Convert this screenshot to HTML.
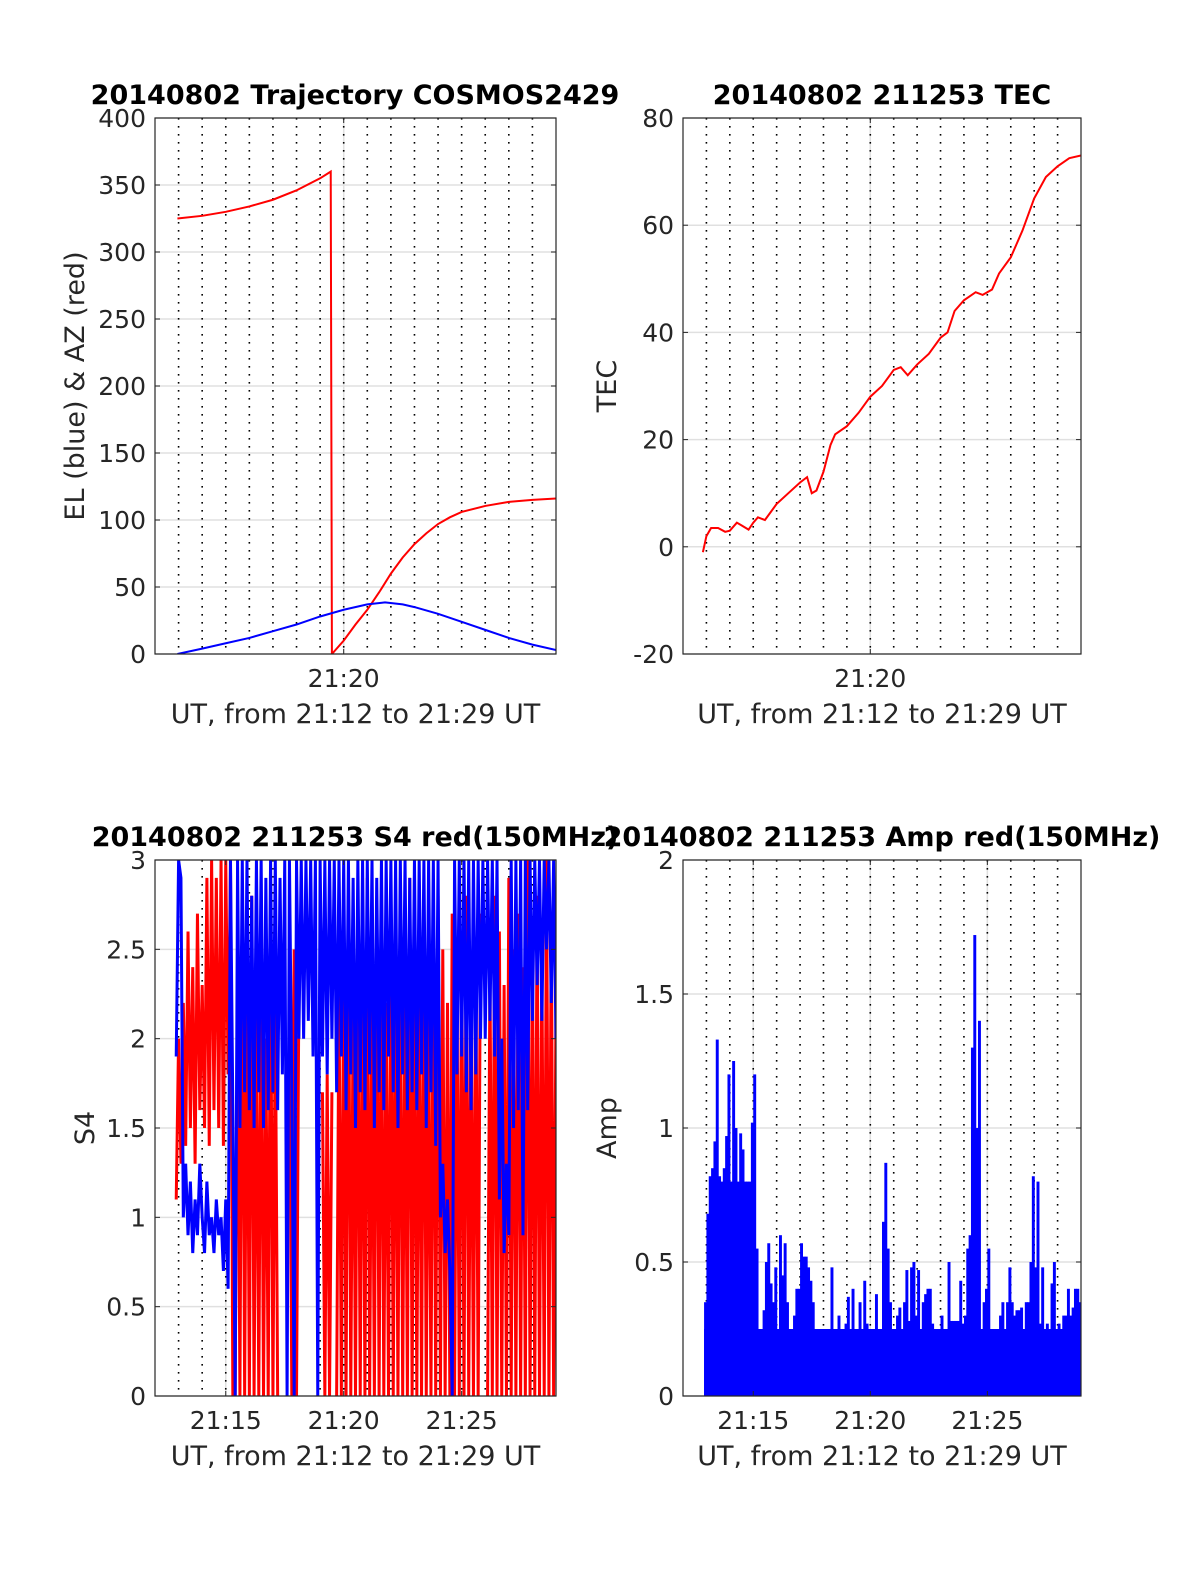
<!DOCTYPE html>
<html><head><meta charset="utf-8"><style>
body{margin:0;background:#fff;}
svg{display:block;font-family:"DejaVu Sans","Liberation Sans",sans-serif;}
</style></head><body>
<svg id="fig" width="1200" height="1575" viewBox="0 0 1200 1575"></svg>
<script>
// ---------- data ----------
const azTimes = [0.95,2,3,4,5,6,7,7.45,7.5,8,8.5,9,9.5,10,10.5,11,11.5,12,12.5,13,14,15,16,17];
const azValues = [325,327,330,334,339,346,355,360,0,10,22,33,46,60,72,82,90,97,102,106,110.5,113.5,115,116];
const elTimes = [0.95,2,3,4,5,6,7,8,9,9.75,10.5,11,12,13,14,15,16,17];
const elValues = [0,4,8,12,17,22,28,33,37,38.5,37,35,30,24,18,12,7,3];
const tecTimes = [0.85,1.0,1.2,1.5,1.8,2,2.3,2.5,2.8,3,3.2,3.5,4,4.5,5,5.3,5.5,5.7,6,6.3,6.5,7,7.5,8,8.5,9,9.3,9.6,10,10.5,11,11.3,11.6,12,12.5,12.8,13.2,13.5,14,14.5,15,15.5,16,16.5,17];
const tecValues = [-1,2,3.5,3.5,2.8,3,4.5,4,3.2,4.5,5.5,5,8,10,12,13,10,10.5,14,19,21,22.5,25,28,30,33,33.5,32,34,36,39,40,44,46,47.5,47,48,51,54,59,65,69,71,72.5,73];
// S4 series sampled every 0.1 min from t=0.9 (min after 21:12)
const s4Start = 0.9, s4Step = 0.1;
const s4Red = [1.1,2.0,1.3,2.2,1.4,2.6,1.5,2.4,1.3,2.7,1.6,2.3,1.5,2.9,1.4,3,1.6,2.9,1.5,3,1.4,3,1.8,
 3,0,0,2.5,0,2.8,0,2.5,0,2.8,0,2.2,0,2.5,0,2,0,2.6,0,2.2,0,
 null,null,null,null,
 2.2,0,2.5,0,2.3,
 null,null,null,null,null,
 1.3,null,null,null,
 1.7,0,1.8,0,1.7,
 null,
 0,2.3,0,2.5,0,2.8,0,2.2,0,2.6,0,2.4,0,2.9,0,2.3,0,2.7,0,2.5,0,2.2,0,2.8,0,2.4,0,2.6,0,2.3,0,2.9,0,2.5,0,2.4,0,2.7,0,2.2,0,2.6,0,2.8,
 0,2.5,0,2.2,0,2.7,0,2.4,0,2.6,0,2.8,0,2.3,0,2.5,0,2.7,
 null,null,
 0,2.4,0,2.8,0,2.6,0,2.3,0,2.9,0,2.5,0,2.7,0,2.4,0,3,0,2.6,0,2.8,0,2.5,0,3,0,2.7,0,2.2];
const s4Blue = [1.9,3,2.9,1.0,1.3,0.9,1.2,0.8,1.1,0.9,1.3,1.0,0.8,1.2,0.9,1.0,0.8,1.1,0.9,1.0,0.7,1.1,0.6,
 3,1.6,0,3,1.5,3,1.7,3,1.6,2.8,1.5,3,1.7,3,1.5,2.9,1.6,3,1.7,3,1.6,
 2.9,1.8,3,0,
 3,1.7,0,3,2.0,
 3,2.0,3,2.1,3,
 1.9,3,0,3,
 1.9,3,1.8,3,2.0,3,
 1.7,3,1.9,3,1.6,3,1.8,2.9,1.5,3,1.7,3,1.6,3,1.8,3,1.5,2.9,1.7,3,1.6,3,1.9,3,1.7,3,1.5,3,1.8,3,1.6,2.9,1.7,3,1.6,3,1.8,3,1.5,3,1.7,3,1.4,3,
 1.0,1.3,0.8,1.1,0.7,0,3,1.8,3,1.9,3,1.7,3,1.6,3,1.8,3,2.0,
 3,2.0,
 3,2.1,3,1.9,3,1.1,2.0,0.8,1.3,0.9,3,1.5,3,1.6,3,0.9,3,1.6,3,2.1,3,2.3,3,2.1,3,2.5,3,2.2,3,2.0];
const ampValues = [0.35,0.68,0.82,0.85,0.95,1.33,0.82,0.8,0.85,0.97,1.2,0.8,1.25,1.0,0.8,0.98,0.92,0.8,0.8,0.8,1.02,1.2,0.55,0.18,0.2,0.32,0.5,0.57,0.42,0.35,
 0.48,0.25,0.6,0.45,0.57,0.35,0.25,0.2,0.3,0.4,0.4,0.57,0.52,0.52,0.48,0.43,0.35,0.22,0.2,0.17,0.18,0.2,0.25,0.2,0.48,0.25,0.25,0.3,0.2,0.2,
 0.27,0.37,0.23,0.4,0.22,0.2,0.35,0.25,0.43,0.27,0.2,0.2,0.25,0.38,0.23,0.25,0.65,0.87,0.55,0.35,0.25,0.2,0.3,0.33,0.25,0.35,0.47,0.28,0.48,0.5,
 0.3,0.47,0.2,0.35,0.38,0.4,0.4,0.27,0.2,0.17,0.25,0.3,0.2,0.25,0.5,0.28,0.28,0.28,0.28,0.43,0.27,0.3,0.55,0.6,1.3,1.72,1.0,1.4,0.25,0.35,
 0.4,0.55,0.25,0.18,0.2,0.2,0.3,0.35,0.2,0.35,0.48,0.35,0.3,0.32,0.32,0.33,0.2,0.35,0.35,0.5,0.82,0.48,0.8,0.27,0.48,0.22,0.27,0.22,0.42,0.5,
 0.25,0.27,0.23,0.3,0.3,0.4,0.3,0.33,0.4,0.4,0.35,0.3];
const minuteTicks = [1,2,3,4,5,6,7,8,9,10,11,12,13,14,15,16];

// ---------- drawing ----------
const NS='http://www.w3.org/2000/svg';
const svg=document.getElementById('fig');
function mk(tag,attrs,parent){const e=document.createElementNS(NS,tag);for(const k in attrs)e.setAttribute(k,attrs[k]);(parent||svg).appendChild(e);return e;}
function txt(s,attrs,parent){const e=mk('text',attrs,parent);e.textContent=s;return e;}

function makeAxes(cfg){
  const g=mk('g',{});
  
  
  const X=t=>cfg.x0+(t-0)/(17)*(cfg.x1-cfg.x0);
  const Y=v=>cfg.y1-(v-cfg.ymin)/(cfg.ymax-cfg.ymin)*(cfg.y1-cfg.y0);
  cfg.yticks.forEach(v=>{
    const l=mk('line',{x1:cfg.x0,x2:cfg.x1,y1:Y(v),y2:Y(v),stroke:'#e0e0e0','stroke-width':1.5},g);
    
  });
  cfg.xticks.forEach(tk=>{
    const l=mk('line',{x1:X(tk.t),x2:X(tk.t),y1:cfg.y0,y2:cfg.y1,stroke:'#e0e0e0','stroke-width':1.5},g);
    
  });
  minuteTicks.forEach(m=>{
    const l=mk('line',{x1:X(m),x2:X(m),y1:cfg.y0,y2:cfg.y1,stroke:'#000','stroke-width':1.6,'stroke-dasharray':'1.6 6.4'},g);
    
  });
  const plot=mk('g',{'clip-path':'url(#'+cfg.name+'-clip)'},g);
  const cp=mk('clipPath',{id:cfg.name+'-clip'},g);
  mk('rect',{x:cfg.x0,y:cfg.y0,width:cfg.x1-cfg.x0,height:cfg.y1-cfg.y0},cp);
  const box=mk('rect',{x:cfg.x0,y:cfg.y0,width:cfg.x1-cfg.x0,height:cfg.y1-cfg.y0,fill:'none',stroke:'#262626','stroke-width':1.2},g);
  
  cfg.yticks.forEach((v,i)=>{
    mk('line',{x1:cfg.x0,x2:cfg.x0+5,y1:Y(v),y2:Y(v),stroke:'#262626'},g);
    mk('line',{x1:cfg.x1,x2:cfg.x1-5,y1:Y(v),y2:Y(v),stroke:'#262626'},g);
    const t=txt(cfg.ylabels[i],{x:cfg.x0-9,y:Y(v)+9,'text-anchor':'end','font-size':25,fill:'#262626'},g);
    
  });
  cfg.xticks.forEach(tk=>{
    mk('line',{x1:X(tk.t),x2:X(tk.t),y1:cfg.y1,y2:cfg.y1-5,stroke:'#262626'},g);
    mk('line',{x1:X(tk.t),x2:X(tk.t),y1:cfg.y0,y2:cfg.y0+5,stroke:'#262626'},g);
    const t=txt(tk.label,{x:X(tk.t),y:cfg.y1+33,'text-anchor':'middle','font-size':25,fill:'#262626'},g);
    
  });
  const cx=(cfg.x0+cfg.x1)/2;
  const xl=txt('UT, from 21:12 to 21:29 UT',{x:cx,y:cfg.y1+69,'text-anchor':'middle','font-size':27,fill:'#262626'},g);
  
  const yc=(cfg.y0+cfg.y1)/2;
  const yl=txt(cfg.ylabel,{x:cfg.ylx,y:yc,'text-anchor':'middle','font-size':27,fill:'#262626',transform:'rotate(-90 '+cfg.ylx+' '+yc+')'},g);
  
  const ti=txt(cfg.title,{x:cfg.tx,y:cfg.y0-14,'text-anchor':'middle','font-size':27,'font-weight':'bold',fill:'#000'},g);
  
  return {X,Y,plot};
}
function linePath(X,Y,ts,vs){let d='',pen=false;for(let i=0;i<vs.length;i++){if(vs[i]===null){pen=false;continue;}d+=(pen?'L':'M')+X(ts[i]).toFixed(2)+' '+Y(vs[i]).toFixed(2);pen=true;}return d;}
const topXt=[{t:8,label:'21:20'}];
const botXt=[{t:3,label:'21:15'},{t:8,label:'21:20'},{t:13,label:'21:25'}];

const a1=makeAxes({name:'trajectory-panel',x0:155,x1:556,y0:118,y1:654,ymin:0,ymax:400,yticks:[0,50,100,150,200,250,300,350,400],ylabels:['0','50','100','150','200','250','300','350','400'],xticks:topXt,ylabel:'EL (blue) & AZ (red)',ylx:84,title:'20140802 Trajectory COSMOS2429',tx:355});
let p=mk('path',{d:linePath(a1.X,a1.Y,azTimes,azValues),fill:'none',stroke:'#f00','stroke-width':2},a1.plot);

p=mk('path',{d:linePath(a1.X,a1.Y,elTimes,elValues),fill:'none',stroke:'#00f','stroke-width':2},a1.plot);


const a2=makeAxes({name:'tec-panel',x0:683,x1:1081,y0:118,y1:654,ymin:-20,ymax:80,yticks:[-20,0,20,40,60,80],ylabels:['-20','0','20','40','60','80'],xticks:topXt,ylabel:'TEC',ylx:616,title:'20140802 211253 TEC',tx:882});
p=mk('path',{d:linePath(a2.X,a2.Y,tecTimes,tecValues),fill:'none',stroke:'#f00','stroke-width':2},a2.plot);


const a3=makeAxes({name:'s4-panel',x0:155,x1:556,y0:860,y1:1396,ymin:0,ymax:3,yticks:[0,0.5,1,1.5,2,2.5,3],ylabels:['0','0.5','1','1.5','2','2.5','3'],xticks:botXt,ylabel:'S4',ylx:94,title:'20140802 211253 S4 red(150MHz)',tx:355});
const s4T=s4Red.map((_,i)=>s4Start+i*s4Step);
p=mk('path',{d:linePath(a3.X,a3.Y,s4T,s4Red),fill:'none',stroke:'#f00','stroke-width':3},a3.plot);

p=mk('path',{d:linePath(a3.X,a3.Y,s4Blue.map((_,i)=>s4Start+i*s4Step),s4Blue),fill:'none',stroke:'#00f','stroke-width':3},a3.plot);


const a4=makeAxes({name:'amp-panel',x0:683,x1:1081,y0:860,y1:1396,ymin:0,ymax:2,yticks:[0,0.5,1,1.5,2],ylabels:['0','0.5','1','1.5','2'],xticks:botXt,ylabel:'Amp',ylx:616,title:'20140802 211253 Amp red(150MHz)',tx:882});
ampValues.forEach((v,i)=>{
  const t=s4Start+i*s4Step;
  const x=a4.X(t), w=a4.X(t+s4Step)-x;
  const r=mk('rect',{x:x.toFixed(2),y:a4.Y(v).toFixed(2),width:(w+0.6).toFixed(2),height:(a4.Y(0)-a4.Y(v)).toFixed(2),fill:'#00f'},a4.plot);
  
  
});
const base=mk('rect',{x:a4.X(s4Start),y:a4.Y(0.25),width:a4.X(17)-a4.X(s4Start),height:a4.Y(0)-a4.Y(0.25),fill:'#00f'},a4.plot);

</script>
</body></html>
